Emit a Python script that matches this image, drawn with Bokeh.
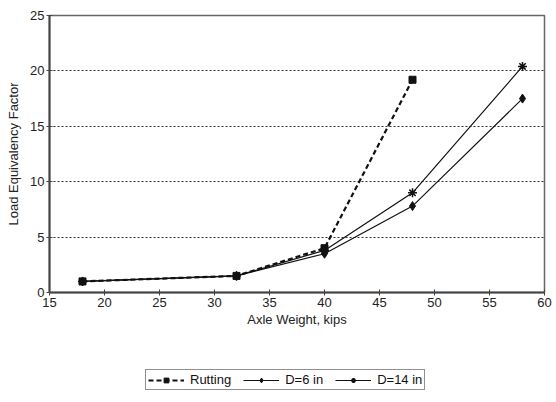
from bokeh.plotting import figure
from bokeh.models import Range1d, Legend, LegendItem, FixedTicker
from bokeh.layouts import column
from bokeh.embed import file_html
from bokeh.resources import INLINE

x_rut = [18, 32, 40, 48]
y_rut = [1.0, 1.5, 4.0, 19.2]
x_d6 = [18, 32, 40, 48, 58]
y_d6 = [1.0, 1.5, 3.5, 7.8, 17.5]
x_d14 = [18, 32, 40, 48, 58]
y_d14 = [1.0, 1.5, 3.8, 9.0, 20.4]
x_ticks = [15, 20, 25, 30, 35, 40, 45, 50, 55, 60]
y_ticks = [0, 5, 10, 15, 20, 25]
labels = ["Rutting", "D=6 in", "D=14 in"]

FONT = "Liberation Sans"
W = 552

p = figure(width=W, height=348, output_backend="svg", toolbar_location=None,
           x_range=Range1d(15, 60), y_range=Range1d(0, 25),
           min_border_left=49, min_border_right=8, min_border_top=15, min_border_bottom=56)

p.outline_line_color = "#666666"
p.outline_line_width = 1.5

p.xgrid.visible = False
p.ygrid.ticker = FixedTicker(ticks=[5, 10, 15, 20])
p.ygrid.grid_line_color = "#333333"
p.ygrid.grid_line_dash = "2 2"
p.ygrid.grid_line_width = 1.2

for ax in (p.xaxis[0], p.yaxis[0]):
    ax.axis_line_color = "#444444"
    ax.axis_line_width = 2
    ax.major_tick_line_color = "#444444"
    ax.major_tick_in = 3
    ax.major_tick_out = 3
    ax.minor_tick_line_color = None
    ax.major_label_text_font = FONT
    ax.major_label_text_font_size = "13px"
    ax.major_label_text_color = "#222222"
    ax.axis_label_text_font = FONT
    ax.axis_label_text_font_size = "13px"
    ax.axis_label_text_font_style = "normal"
    ax.axis_label_text_color = "#222222"

p.xaxis.ticker = FixedTicker(ticks=x_ticks)
p.yaxis.ticker = FixedTicker(ticks=y_ticks)
p.xaxis.axis_label = "Axle Weight, kips"
p.yaxis.axis_label = "Load Equivalency Factor"
p.xaxis.major_label_standoff = 2
p.xaxis.axis_label_standoff = 2
p.yaxis.major_label_standoff = 2
p.yaxis.axis_label_standoff = 6


def draw(fig):
    r1 = fig.line(x_rut, y_rut, line_color="#111111", line_width=2.2, line_dash="5 3")
    m1 = fig.scatter(x_rut, y_rut, marker="square", size=7, fill_color="#111111", line_color="#111111")
    r2 = fig.line(x_d6, y_d6, line_color="#111111", line_width=1.2)
    m2 = fig.scatter(x_d6, y_d6, marker="diamond", size=9, fill_color="#111111", line_color="#111111")
    r3 = fig.line(x_d14, y_d14, line_color="#111111", line_width=1.2)
    m3 = fig.scatter(x_d14, y_d14, marker="asterisk", size=9, line_color="#111111", line_width=1.5)
    return [[r1, m1], [r2, m2], [r3, m3]]


draw(p)

# Legend strip below the chart (its own renderers lie outside its view range)
lf = figure(width=W, height=46, output_backend="svg", toolbar_location=None,
            x_range=Range1d(100, 101), y_range=Range1d(100, 101),
            min_border=0, min_border_left=0, min_border_right=0,
            min_border_top=0, min_border_bottom=0)
lf.axis.visible = False
lf.grid.visible = False
lf.outline_line_color = None
groups = draw(lf)

legend = Legend(items=[LegendItem(label=lab, renderers=g) for lab, g in zip(labels, groups)],
                orientation="horizontal", location=(96, 4))
legend.label_text_font = FONT
legend.label_text_font_size = "13px"
legend.label_text_color = "#111111"
legend.border_line_color = "#222222"
legend.border_line_width = 1.5
legend.glyph_width = 36
legend.glyph_height = 12
legend.label_standoff = 6
legend.spacing = 12
legend.padding = 2
legend.label_height = 12
legend.margin = 0
lf.add_layout(legend)

layout = column(p, lf, spacing=0)
open("out.html", "w").write(file_html(layout, INLINE))
